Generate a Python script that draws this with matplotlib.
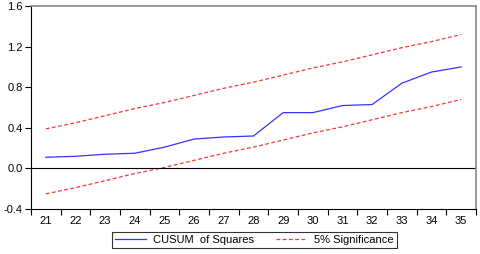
import matplotlib
matplotlib.use("Agg")
import matplotlib.pyplot as plt
import numpy as np

plt.rcParams['font.family'] = ['Liberation Sans', 'DejaVu Sans']

periods = [21, 22, 23, 24, 25, 26, 27, 28, 29, 30, 31, 32, 33, 34, 35]
cusum_sq = [0.11, 0.12, 0.14, 0.15, 0.21, 0.29, 0.31, 0.32, 0.55, 0.55, 0.62, 0.63, 0.84, 0.95, 1.00]
upper = [0.39, 0.45, 0.52, 0.59, 0.65, 0.72, 0.79, 0.85, 0.92, 0.99, 1.05, 1.12, 1.19, 1.25, 1.32]
lower = [-0.25, -0.19, -0.12, -0.05, 0.01, 0.08, 0.15, 0.21, 0.28, 0.35, 0.41, 0.48, 0.55, 0.61, 0.68]
yticks = [-0.4, 0.0, 0.4, 0.8, 1.2, 1.6]

fig = plt.figure(figsize=(4.8, 2.54), dpi=100)
ax = fig.add_axes([0.0646, 0.177, 0.927, 0.799])

ax.plot(periods, cusum_sq, color='#3333ff', lw=0.9, label='CUSUM  of Squares')
ax.plot(periods, upper, color='#ff3333', lw=0.9, ls=(0, (3, 2)), label='5% Significance')
ax.plot(periods, lower, color='#ff3333', lw=0.9, ls=(0, (3, 2)))
ax.axhline(0, color='black', lw=0.8)

ax.set_xlim(20.5, 35.5)
ax.set_ylim(-0.4, 1.6)
ax.set_yticks(yticks)
ax.set_yticklabels(['%.1f' % v for v in yticks])
ax.set_xticks(periods)
ax.set_xticks(np.arange(20.5, 35.6, 1), minor=True)
ax.tick_params(axis='x', which='major', length=0, labelsize=8, pad=5)
ax.tick_params(axis='x', which='minor', length=4, width=0.8, direction='out')
ax.tick_params(axis='y', length=4, width=0.8, labelsize=8, pad=2)

for side in ['top', 'right']:
    ax.spines[side].set_color('#888888')
    ax.spines[side].set_linewidth(1.2)
ax.spines['left'].set_linewidth(0.8)
ax.spines['bottom'].set_linewidth(0.8)

leg = fig.legend(loc='lower center', bbox_to_anchor=(0.53, 0.0), ncol=2, fontsize=8,
                 frameon=True, fancybox=False, edgecolor='black', handlelength=2.8,
                 borderpad=0.3, columnspacing=2.0, handletextpad=0.6)
leg.get_frame().set_linewidth(0.8)

fig.savefig('out.png', dpi=100)
